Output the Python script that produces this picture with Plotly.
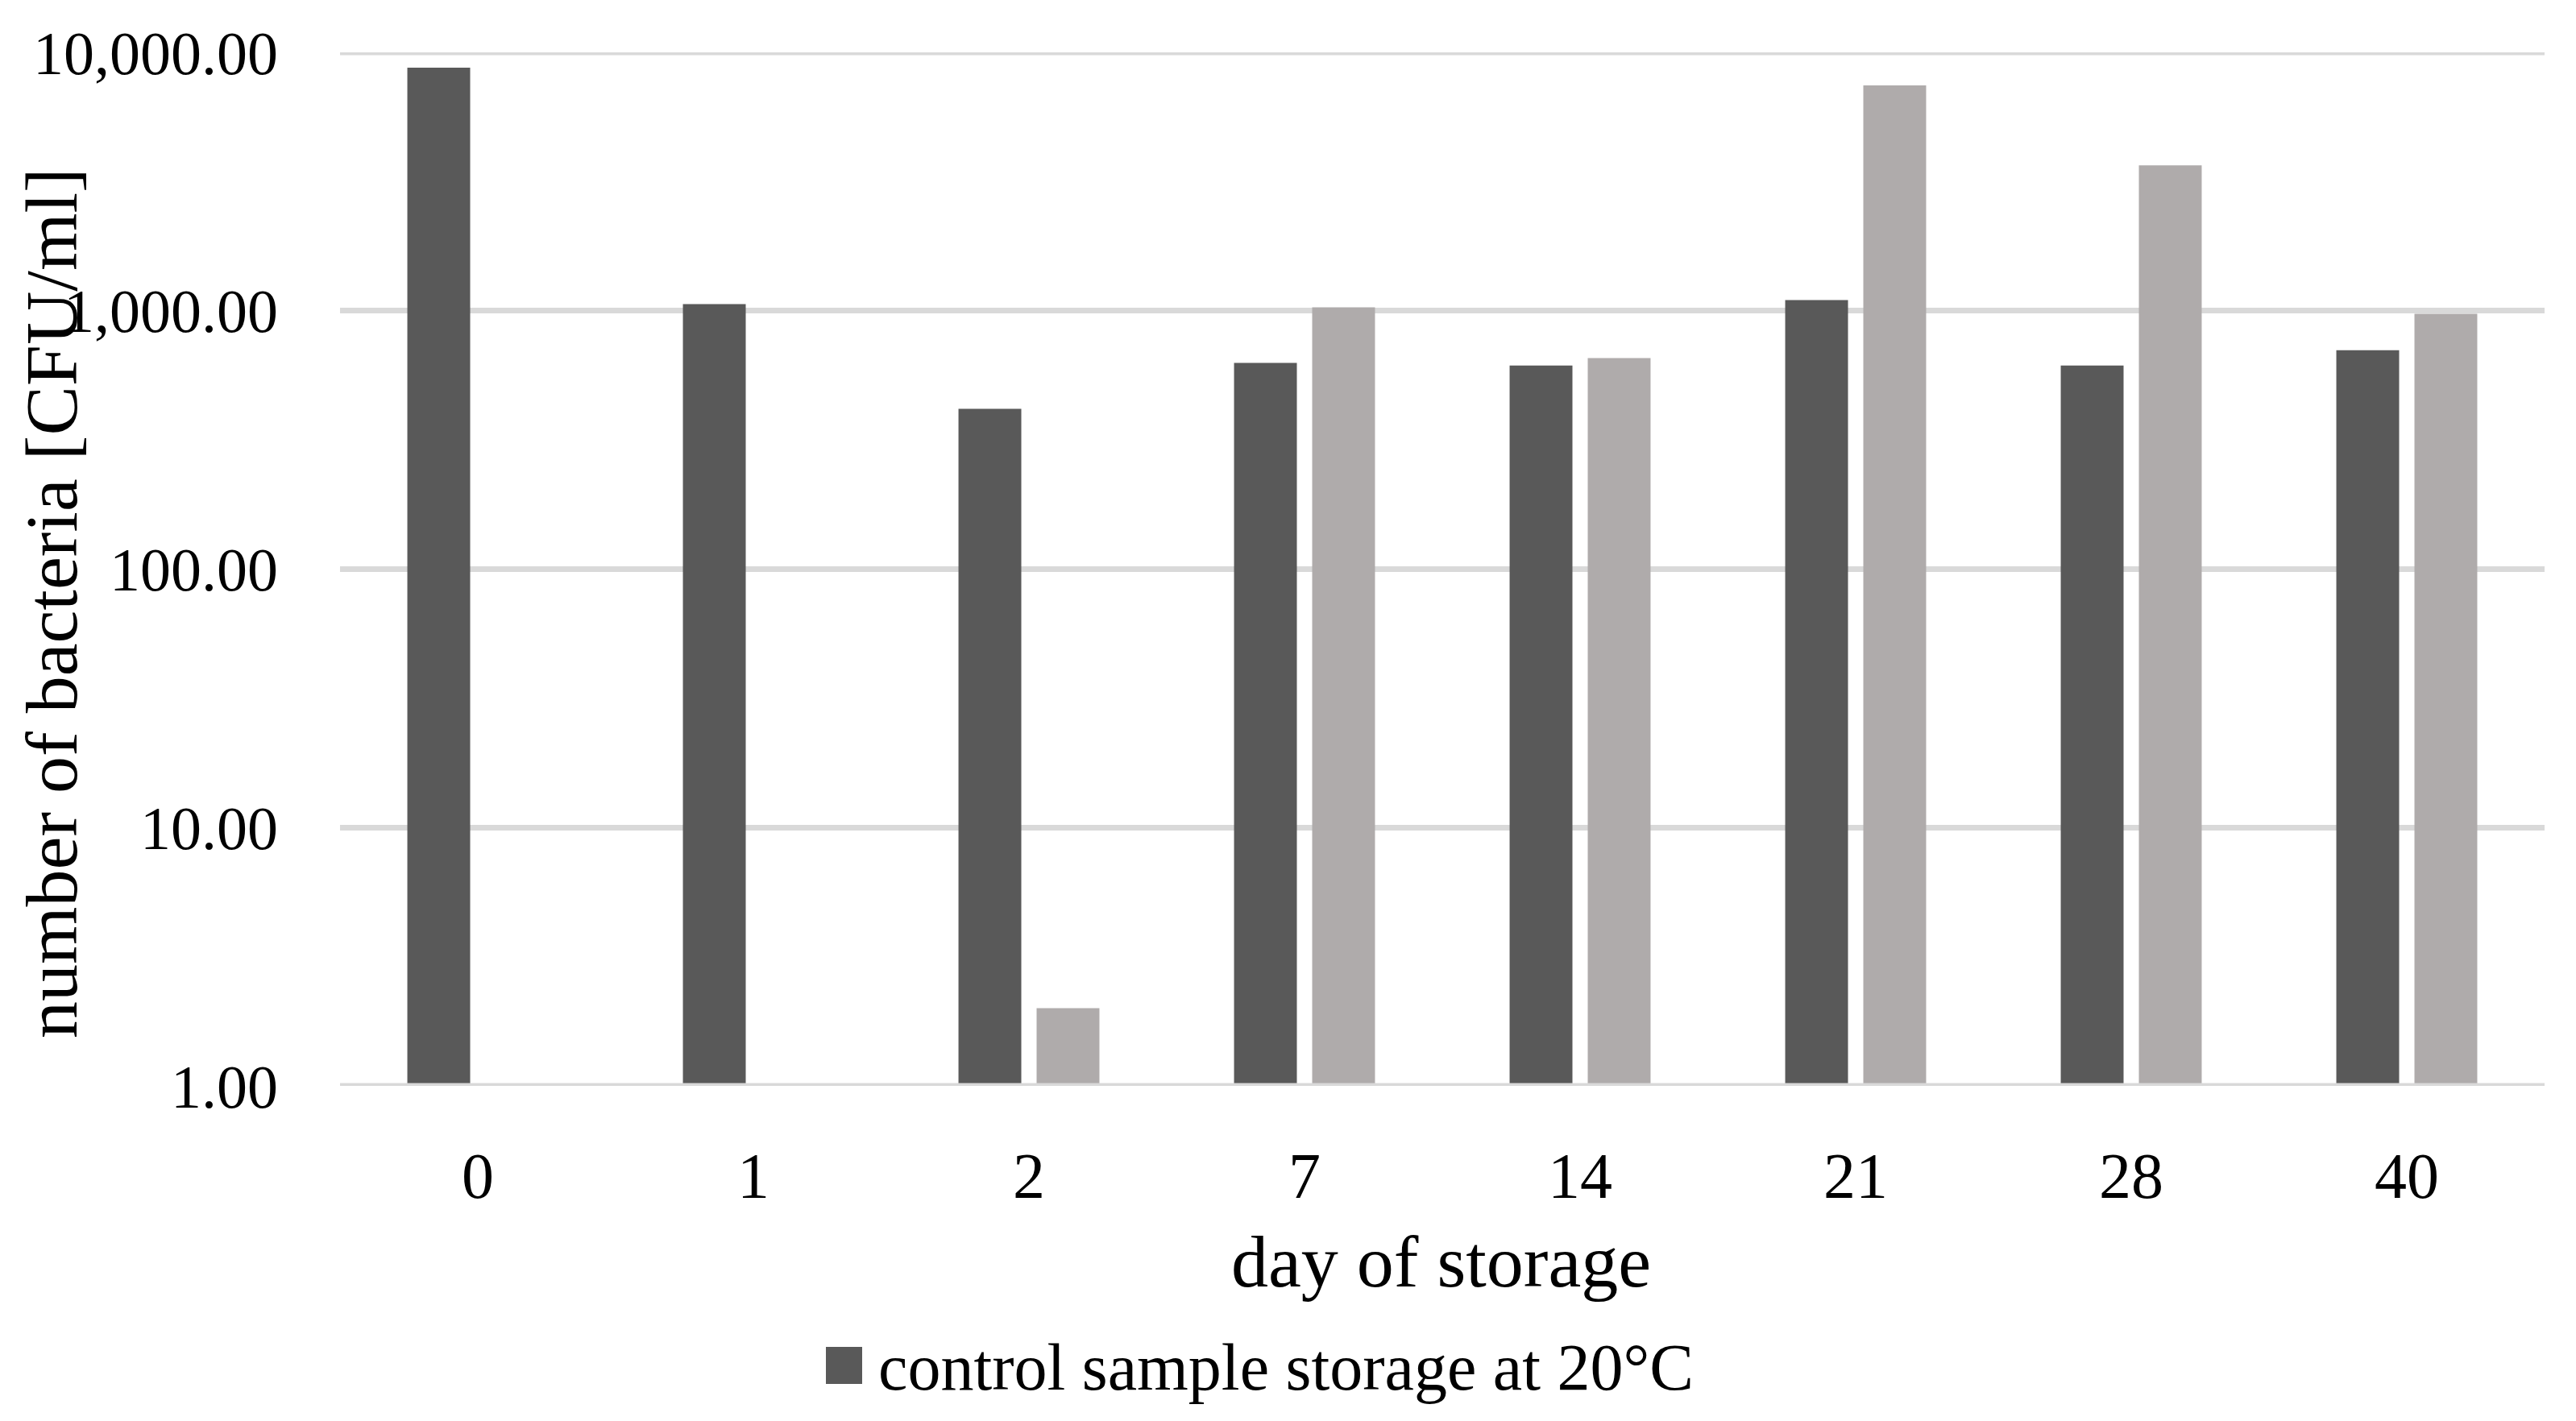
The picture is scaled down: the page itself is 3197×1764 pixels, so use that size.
import plotly.graph_objects as go

days = ["0", "1", "2", "7", "14", "21", "28", "40"]
control_20C = [8730, 1061, 417, 628, 614, 1100, 614, 704]
second_series = [None, None, 2.0, 1031, 656, 7450, 3655, 973]

y_tickvals = [1, 10, 100, 1000, 10000]
y_ticktext = ["1.00", "10.00", "100.00", "1,000.00", "10,000.00"]

legend_label = "control sample storage at 20°C"
x_title = "day of storage"
y_title = "number of bacteria [CFU/ml]"

DARK = "#595959"
LIGHT = "#afabab"
GRID = "#d9d9d9"
FONT = "Liberation Serif"

fig = go.Figure()
fig.add_trace(go.Bar(x=days, y=control_20C, marker_color=DARK,
                     marker_line_width=0, name=legend_label, showlegend=False))
fig.add_trace(go.Bar(x=days, y=second_series, marker_color=LIGHT,
                     marker_line_width=0, showlegend=False))

OFF = 8  # default page body margin
W, H = 3197, 1764
L, R, T, B = 414, 47, 57, 424
pw, ph = W - L - R, H - T - B
plot_left = OFF + L
plot_bottom = OFF + T + ph

def px(xp):
    return (xp - plot_left) / pw

def py(yp):
    return (plot_bottom - yp) / ph

fig.update_layout(
    width=W, height=H,
    margin=dict(l=L, r=R, t=T, b=B, pad=0),
    paper_bgcolor="white", plot_bgcolor="white",
    barmode="group", bargap=0.433, bargroupgap=0.196,
    font=dict(family=FONT, color="black", size=78),
    showlegend=False,
)
fig.update_xaxes(
    type="category", showgrid=False, showline=False, zeroline=False,
    ticks="", tickfont=dict(size=80, family=FONT, color="black"),
    ticklabelstandoff=58,
)
fig.update_yaxes(
    type="log", range=[0, 4], tickvals=y_tickvals, ticktext=y_ticktext,
    showgrid=True, gridcolor=GRID, gridwidth=7, zeroline=False, showline=False,
    ticks="", tickfont=dict(size=76, family=FONT, color="black"),
    ticklabelstandoff=76,
)

# edge gridlines (bottom and top) that plotly omits at the range boundaries
fig.add_shape(type="line", xref="paper", yref="y", x0=0, x1=1,
              y0=y_tickvals[0], y1=y_tickvals[0], layer="above",
              line=dict(color=GRID, width=7))
fig.add_shape(type="line", xref="paper", yref="y", x0=0, x1=1,
              y0=y_tickvals[-1], y1=y_tickvals[-1], layer="below",
              line=dict(color=GRID, width=7))

# axis titles
fig.add_annotation(text=y_title, xref="paper", yref="paper",
                   x=px(64), y=py(749), textangle=-90, showarrow=False,
                   xanchor="center", yanchor="middle",
                   font=dict(size=92, family=FONT, color="black"))
fig.add_annotation(text=x_title, xref="paper", yref="paper",
                   x=px(1788), y=py(1566), showarrow=False,
                   xanchor="center", yanchor="middle",
                   font=dict(size=92, family=FONT, color="black"))

# legend (single entry, as in the reference)
fig.add_shape(type="rect", xref="paper", yref="paper",
              x0=px(1025), x1=px(1070), y0=py(1718), y1=py(1672),
              fillcolor=DARK, line=dict(width=0))
fig.add_annotation(text=legend_label, xref="paper", yref="paper",
                   x=px(1088), y=py(1697), showarrow=False,
                   xanchor="left", yanchor="middle",
                   font=dict(size=82, family=FONT, color="black"))

fig.write_html("out.html")
